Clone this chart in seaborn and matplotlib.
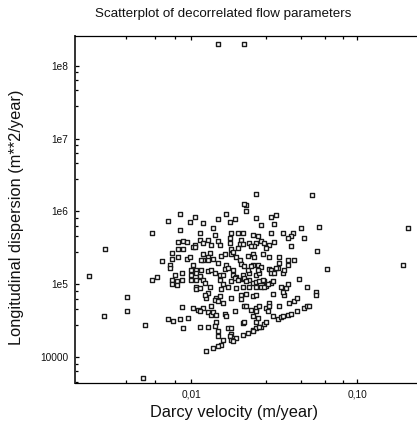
import numpy as np
import pandas as pd
import matplotlib
matplotlib.use("Agg")
import matplotlib.pyplot as plt
import matplotlib.ticker as mticker
import seaborn as sns

# Values (log10 of velocity, log10 of dispersion)
log_velocity = [
    -1.84, -1.68, -2.29, -2.62, -2.52, -2.53, -2.39, -2.39, -2.28, -2.24, -2.24, -2.21,
    -0.69, -0.72, -1.27, -1.61, -1.23, -1.18, -1.24,
    -2.07, -1.98, -2.14, -2.01, -2.07, -1.95, -2.08, -2.05, -2.03, -1.98, -1.99, -1.98,
    -2.08, -2.05, -2.12, -2.12, -2.08, -2.03, -2.01, -2.18, -2.13, -2.13, -1.99, -2.00,
    -1.97, -2.10, -2.06, -2.00, -1.97, -1.95, -2.12, -2.12, -2.09, -2.09, -2.06, -2.00,
    -1.97, -1.97, -1.97, -1.95, -2.06, -1.99, -1.96, -2.14, -2.11, -2.07, -2.02, -2.05,
    -1.67, -1.68, -1.67, -1.79, -1.61, -1.52, -1.49, -1.84, -1.74, -1.77, -1.93, -1.58,
    -1.50, -1.87, -1.34, -1.72, -1.76, -1.69, -1.86, -1.63, -1.60, -1.52, -1.45, -1.39,
    -1.40, -1.42, -1.32, -1.95, -1.93, -1.90, -1.84, -1.83, -1.88, -1.77, -1.77, -1.70,
    -1.71, -1.69, -1.65, -1.61, -1.62, -1.64, -1.58, -1.56, -1.53, -1.50, -1.55, -1.40,
    -1.76, -1.72, -1.93, -1.89, -1.90, -1.93, -1.82, -1.80, -1.76, -1.75, -1.73, -1.66,
    -1.63, -1.62, -1.57, -1.53, -1.47, -1.42, -1.38, -1.42, -1.94, -1.90, -1.87, -1.84,
    -1.79, -1.71, -1.70, -1.63, -1.60, -1.58, -1.53, -1.52, -1.48, -1.45, -1.94, -1.90,
    -1.88, -1.86, -1.80, -1.83, -1.81, -1.75, -1.73, -1.69, -1.69, -1.65, -1.61, -1.59,
    -1.52, -1.50, -1.95, -1.93, -1.83, -1.76, -1.74, -1.65, -1.63, -1.61, -1.59, -1.56,
    -1.55, -1.52, -1.51, -1.35, -1.92, -1.89, -1.81, -1.78, -1.82, -1.73, -1.69, -1.65,
    -1.61, -1.58, -1.56, -1.54, -1.46, -1.43, -1.42, -1.30, -1.25, -1.25, -1.90, -1.91,
    -1.92, -1.85, -1.83, -1.86, -1.84, -1.76, -1.70, -1.67, -1.70, -1.63, -1.61, -1.51,
    -1.44, -1.45, -1.41, -1.38, -1.36, -1.81, -1.68, -1.67, -1.64, -1.61, -1.59, -1.61,
    -1.55, -1.54, -1.53, -1.53, -1.47, -1.93, -1.88, -1.95, -1.90, -1.88, -1.87, -1.85,
    -1.80, -1.79, -1.74, -1.51, -1.48, -1.46, -1.45, -1.42, -1.40, -1.36, -1.32, -1.30,
    -1.29, -1.85, -1.69, -1.68, -1.63, -1.61, -1.60, -1.58, -1.56, -1.55, -1.95, -1.90,
    -1.86, -1.78, -1.76, -1.63, -1.61, -1.59, -1.84, -1.76, -1.77, -1.84, -1.81, -1.69,
    -1.66, -1.63, -1.76, -1.73, -1.75, -1.82, -1.84, -1.87, -1.91,
    -1.78, -1.75, -1.72, -1.68, -1.66, -1.64, -1.60, -1.68, -1.67, -1.57, -1.49, -1.44,
    -1.47,
]
log_dispersion = [
    8.30, 8.30, 3.72, 5.12, 5.49, 4.57, 4.83, 4.63, 4.44, 5.70, 5.06, 5.10,
    5.77, 5.27, 6.22, 6.24, 5.79, 5.21, 5.46,
    5.97, 5.93, 5.87, 5.85, 5.75, 5.70, 5.58, 5.60, 5.58, 5.54, 5.51, 5.51,
    5.49, 5.49, 5.43, 5.35, 5.38, 5.35, 5.37, 5.32, 5.26, 5.22, 5.26, 5.20,
    5.20, 5.13, 5.15, 5.13, 5.16, 5.10, 5.06, 5.01, 5.05, 4.99, 5.06, 5.06,
    5.06, 4.96, 4.93, 4.95, 4.69, 4.68, 4.65, 4.53, 4.50, 4.53, 4.54, 4.40,
    6.09, 6.10, 6.00, 5.97, 5.91, 5.93, 5.95, 5.89, 5.89, 5.85, 5.84, 5.81,
    5.83, 5.77, 5.77, 5.71, 5.71, 5.71, 5.68, 5.68, 5.67, 5.71, 5.70, 5.70,
    5.66, 5.64, 5.64, 5.61, 5.57, 5.61, 5.60, 5.54, 5.54, 5.64, 5.57, 5.61,
    5.56, 5.56, 5.57, 5.57, 5.52, 5.52, 5.60, 5.57, 5.54, 5.58, 5.50, 5.52,
    5.48, 5.50, 5.41, 5.43, 5.37, 5.33, 5.39, 5.42, 5.41, 5.44, 5.38, 5.39,
    5.42, 5.38, 5.41, 5.37, 5.38, 5.33, 5.33, 5.27, 5.34, 5.34, 5.35, 5.30,
    5.27, 5.33, 5.28, 5.27, 5.26, 5.24, 5.21, 5.20, 5.23, 5.16, 5.20, 5.18,
    5.20, 5.16, 5.21, 5.13, 5.13, 5.13, 5.10, 5.13, 5.07, 5.15, 5.13, 5.15,
    5.16, 5.16, 5.12, 5.06, 5.06, 5.05, 5.09, 5.06, 5.02, 5.03, 5.04, 5.05,
    4.98, 5.02, 5.04, 5.08, 5.02, 4.96, 5.01, 4.97, 4.93, 4.95, 4.96, 4.96,
    4.96, 4.96, 4.97, 5.00, 4.96, 4.95, 5.01, 4.96, 4.90, 4.86, 4.88, 4.81,
    4.86, 4.81, 4.84, 4.79, 4.77, 4.81, 4.86, 4.87, 4.80, 4.84, 4.85, 4.87,
    4.86, 4.89, 4.75, 4.77, 4.81, 4.74, 4.71, 4.71, 4.65, 4.68, 4.70, 4.63,
    4.68, 4.63, 4.74, 4.70, 4.71, 4.68, 4.70, 4.63, 4.62, 4.58, 4.62, 4.58,
    4.60, 4.56, 4.63, 4.57, 4.53, 4.55, 4.56, 4.58, 4.59, 4.64, 4.68, 4.70,
    4.71, 4.49, 4.47, 4.49, 4.56, 4.48, 4.54, 4.42, 4.45, 4.49, 4.42, 4.42,
    4.43, 4.40, 4.40, 4.38, 4.40, 4.42, 4.36, 4.32, 4.29, 4.29, 4.24, 4.31,
    4.33, 4.36, 4.24, 4.26, 4.22, 4.17, 4.15, 4.13, 4.09,
    5.23, 5.20, 5.06, 5.25, 5.20, 5.25, 5.20, 5.09, 5.04, 5.06, 5.23, 5.20,
    5.30,
]

x_major = [0.01, 0.10]
x_major_labels = ["0,01", "0,10"]
x_minor = [0.004, 0.006, 0.008, 0.028, 0.046, 0.064, 0.082]
y_major = [1e4, 1e5, 1e6, 1e7, 1e8]
y_major_labels = ["10000", "1e5", "1e6", "1e7", "1e8"]
y_minor_factors = [0.28, 0.46, 0.64, 0.82]

title = "Scatterplot of decorrelated flow parameters"
xlabel = "Darcy velocity (m/year)"
ylabel = "Longitudinal dispersion (m**2/year)"

df = pd.DataFrame({
    "velocity": np.power(10.0, log_velocity),
    "dispersion": np.power(10.0, log_dispersion),
})

sns.set_theme(style="white")
plt.rcParams["font.family"] = ["Liberation Sans", "DejaVu Sans"]

fig = plt.figure(figsize=(4.17, 4.30), dpi=100)
ax = fig.add_axes([75 / 417, 1 - 383 / 430, 1 - 75 / 417 + 0.003, (383 - 36) / 430])

sns.scatterplot(data=df, x="velocity", y="dispersion", ax=ax, marker="s", s=9,
                facecolor="white", edgecolor="#1a1a1a", linewidth=1.0, legend=False)

ax.set_xscale("log")
ax.set_yscale("log")
ax.set_xlim(0.00198, 0.234)
ax.set_ylim(4440, 2.55e8)

ax.xaxis.set_major_locator(mticker.FixedLocator(x_major))
ax.xaxis.set_major_formatter(mticker.FixedFormatter(x_major_labels))
ax.xaxis.set_minor_locator(mticker.FixedLocator(x_minor))
ax.xaxis.set_minor_formatter(mticker.NullFormatter())
ax.yaxis.set_major_locator(mticker.FixedLocator(y_major))
ax.yaxis.set_major_formatter(mticker.FixedFormatter(y_major_labels))
y_minor = [f * 10.0 ** k for k in range(3, 9) for f in y_minor_factors]
ax.yaxis.set_minor_locator(mticker.FixedLocator(y_minor))
ax.yaxis.set_minor_formatter(mticker.NullFormatter())

ax.tick_params(axis="both", which="both", direction="in", color="black",
               top=True, bottom=True, left=True, right=False,
               labelsize=7.3, labelcolor="#111111", pad=5)
ax.tick_params(which="major", length=3, width=0.9)
ax.tick_params(which="minor", length=2.2, width=0.9)

for side in ["top", "bottom"]:
    ax.spines[side].set_color("black")
    ax.spines[side].set_linewidth(0.9)
ax.spines["left"].set_color("#333333")
ax.spines["left"].set_linewidth(1.4)
ax.spines["right"].set_visible(False)

ax.set_xlabel("")
ax.set_ylabel("")
fig.text(223.5 / 417, 1 - 14 / 430, title, ha="center", va="center", fontsize=9.6, color="#111111")
fig.text(234 / 417, 1 - 412 / 430, xlabel, ha="center", va="center", fontsize=11.8, color="#111111")
fig.text(17 / 417, 1 - 217 / 430, ylabel, ha="center", va="center", rotation=90, fontsize=11.8, color="#111111")

fig.savefig("out.png", dpi=100, facecolor="white")
